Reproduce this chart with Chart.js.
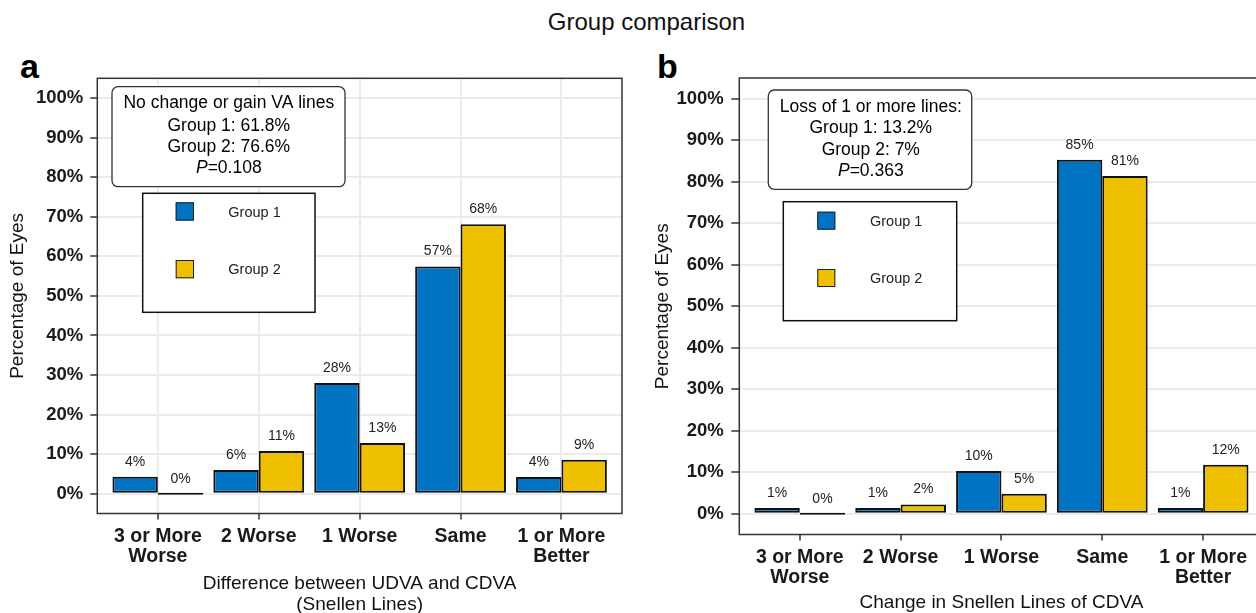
<!DOCTYPE html>
<html>
<head>
<meta charset="utf-8">
<script src="https://cdn.jsdelivr.net/npm/chart.js@4/dist/chart.umd.min.js"></script>
<style>
html,body{margin:0;padding:0;background:#fff;}
body{width:1256px;height:613px;overflow:hidden;position:relative;font-family:"Liberation Sans",Arial,sans-serif;}
#title{position:absolute;left:0;width:1293px;top:8px;text-align:center;font-size:24px;line-height:28px;color:#111;}
.letter{position:absolute;font-weight:bold;font-size:34px;line-height:34px;color:#000;}
.panel{position:absolute;top:40px;width:640px;height:580px;}
</style>
</head>
<body>
<div id="title">Group comparison</div>
<div class="letter" style="left:20px;top:49px;">a</div>
<div class="letter" style="left:657px;top:49px;">b</div>
<div class="panel" style="left:0px;"><canvas id="chartA"></canvas></div>
<div class="panel" style="left:640px;"><canvas id="chartB"></canvas></div>
<script>
// ---- data ----
const categories = [["3 or More","Worse"], "2 Worse", "1 Worse", "Same", ["1 or More","Better"]];
const seriesNames = ["Group 1", "Group 2"];
const seriesColors = ["#0073C2", "#EFC000"];
const panelA_group1 = [4.3, 6.0, 28.0, 57.4, 4.2];
const panelA_group2 = [0, 10.8, 12.8, 68.1, 8.6];
const panelB_group1 = [1.4, 1.4, 10.3, 85.3, 1.4];
const panelB_group2 = [0, 2.2, 4.8, 81.4, 11.8];
const yTickValues = [0, 5, 10, 15, 20, 25, 30, 35, 40, 45, 50, 55, 60, 65, 70, 75, 80, 85, 90, 95, 100];
const xTitleA = ["Difference between UDVA and CDVA", "(Snellen Lines)"];
const xTitleB = "Change in Snellen Lines of CDVA";
const yTitle = "Percentage of Eyes";
const annotA = ["No change or gain VA lines", "Group 1: 61.8%", "Group 2: 76.6%"];
const annotA_p = "0.108";
const annotB = ["Loss of 1 or more lines:", "Group 1: 13.2%", "Group 2: 7%"];
const annotB_p = "0.363";

const FONT = '"Liberation Sans", Arial, sans-serif';
Chart.defaults.font.family = FONT;
Chart.defaults.color = '#1a1a1a';

function roundRect(ctx, x, y, w, h, r) {
  ctx.beginPath();
  ctx.moveTo(x + r, y);
  ctx.lineTo(x + w - r, y);
  ctx.arcTo(x + w, y, x + w, y + r, r);
  ctx.lineTo(x + w, y + h - r);
  ctx.arcTo(x + w, y + h, x + w - r, y + h, r);
  ctx.lineTo(x + r, y + h);
  ctx.arcTo(x, y + h, x, y + h - r, r);
  ctx.lineTo(x, y + r);
  ctx.arcTo(x, y, x + r, y, r);
  ctx.closePath();
}

const framePlugin = {
  id: 'frame',
  afterDatasetsDraw(chart) {
    const a = chart.chartArea, ctx = chart.ctx;
    ctx.save();
    ctx.strokeStyle = '#333';
    ctx.lineWidth = 1.5;
    ctx.strokeRect(a.left, a.top, a.right - a.left, a.bottom - a.top);
    ctx.restore();
  }
};

const barLabelPlugin = {
  id: 'barLabels',
  afterDatasetsDraw(chart) {
    const ctx = chart.ctx, ys = chart.scales.y;
    ctx.save();
    ctx.font = '14px ' + FONT;
    ctx.fillStyle = '#222';
    ctx.textAlign = 'center';
    ctx.textBaseline = 'middle';
    chart.data.datasets.forEach((ds, i) => {
      const meta = chart.getDatasetMeta(i);
      meta.data.forEach((el, j) => {
        const v = ds.data[j].y;
        ctx.fillText(Math.round(v) + '%', el.x, ys.getPixelForValue(v) - 15);
      });
    });
    ctx.restore();
  }
};

const decorPlugin = {
  id: 'decor',
  afterDraw(chart, args, o) {
    const ctx = chart.ctx;
    ctx.save();
    const b = o.annot;
    roundRect(ctx, b.x, b.y, b.w, b.h, 6);
    ctx.fillStyle = '#fff';
    ctx.fill();
    ctx.strokeStyle = '#333';
    ctx.lineWidth = 1.3;
    ctx.stroke();
    ctx.fillStyle = '#000';
    ctx.textBaseline = 'middle';
    ctx.textAlign = 'center';
    const reg = '17.5px ' + FONT, ita = 'italic 17.5px ' + FONT;
    ctx.font = reg;
    b.lines.forEach((t, i) => ctx.fillText(t, b.cx, b.ly[i]));
    ctx.font = ita;
    const wP = ctx.measureText('P').width;
    ctx.font = reg;
    const rest = '=' + b.p;
    const wR = ctx.measureText(rest).width;
    const sx = b.cx - (wP + wR) / 2;
    ctx.textAlign = 'left';
    ctx.font = ita;
    ctx.fillText('P', sx, b.ly[3]);
    ctx.font = reg;
    ctx.fillText(rest, sx + wP, b.ly[3]);
    const L = o.legend;
    ctx.fillStyle = '#fff';
    ctx.fillRect(L.x, L.y, L.w, L.h);
    ctx.strokeStyle = '#111';
    ctx.lineWidth = 1.5;
    ctx.strokeRect(L.x, L.y, L.w, L.h);
    ctx.font = '14.5px ' + FONT;
    ctx.textAlign = 'left';
    chart.data.datasets.forEach((ds, i) => {
      ctx.fillStyle = ds.backgroundColor;
      ctx.fillRect(L.kx, L.ky[i], L.ks, L.ks);
      ctx.strokeStyle = '#222';
      ctx.lineWidth = 1;
      ctx.strokeRect(L.kx + 0.5, L.ky[i] + 0.5, L.ks - 1, L.ks - 1);
      ctx.fillStyle = '#222';
      ctx.fillText(ds.label, L.tx, L.ty[i]);
    });
    ctx.restore();
  }
};

function makeData(g1, g2) {
  return {
    datasets: [g1, g2].map((arr, i) => ({
      label: seriesNames[i],
      data: arr.map((v, j) => ({ x: j, y: v })),
      backgroundColor: seriesColors[i],
      borderColor: '#111',
      borderWidth: 2,
      borderSkipped: false,
      minBarLength: 2,
      categoryPercentage: 0.9,
      barPercentage: 1.0
    }))
  };
}

function makeConfig(g1, g2, p) {
  return {
    type: 'bar',
    data: makeData(g1, g2),
    plugins: [framePlugin, barLabelPlugin, decorPlugin],
    options: {
      responsive: true,
      maintainAspectRatio: false,
      animation: false,
      layout: { padding: { top: p.padTop, right: p.padRight, left: 0, bottom: 0 } },
      plugins: {
        legend: { display: false },
        tooltip: { enabled: false },
        decor: { annot: p.annot, legend: p.legend }
      },
      scales: {
        x: {
          type: 'linear',
          min: -0.6, max: 4.6,
          offset: false,
          afterBuildTicks: s => { s.ticks = categories.map((c, i) => ({ value: i })); },
          afterFit: s => { s.height = p.xHeight; },
          ticks: {
            autoSkip: false, maxRotation: 0, minRotation: 0,
            padding: 7,
            color: '#1a1a1a',
            font: { size: 19.5, weight: 'bold', lineHeight: 1.04 },
            callback: v => categories[v]
          },
          grid: {
            offset: false,
            color: p.xGrid ? '#ebebeb' : 'rgba(0,0,0,0)',
            lineWidth: 2,
            tickColor: '#333',
            tickLength: 6,
            tickWidth: 1.5
          },
          border: { display: false },
          title: {
            display: true,
            text: p.xTitle,
            color: '#111',
            font: { size: 19, lineHeight: 1.1 },
            padding: { top: 0, bottom: p.xTitlePad }
          }
        },
        y: {
          type: 'linear',
          min: -5, max: 105,
          afterBuildTicks: s => { s.ticks = yTickValues.map(v => ({ value: v })); },
          afterFit: s => { s.width = p.yWidth; },
          ticks: {
            padding: p.yTickPad,
            color: '#1a1a1a',
            font: { size: 18.5, weight: 'bold' },
            callback: v => (v % 10 === 0 ? v + '%' : '')
          },
          grid: {
            color: c => (c.tick && c.tick.value % 10 === 0 ? '#ebebeb' : '#f3f3f3'),
            lineWidth: c => (c.tick && c.tick.value % 10 === 0 ? 2 : 1),
            tickColor: c => (c.tick && c.tick.value % 10 === 0 ? '#333' : 'rgba(0,0,0,0)'),
            tickLength: p.yTickLen,
            tickWidth: 1.5
          },
          border: { display: false },
          title: {
            display: true,
            text: yTitle,
            color: '#111',
            font: { size: 19, lineHeight: 1.1 },
            padding: { top: p.yTitlePad, bottom: 0 }
          }
        }
      }
    }
  };
}

new Chart(document.getElementById('chartA'), makeConfig(panelA_group1, panelA_group2, {
  padTop: 38.3, padRight: 18, xHeight: 106.5, yWidth: 97.3, yTickPad: 7, yTickLen: 7,
  xGrid: true, xTitle: xTitleA, xTitlePad: 4.6, yTitlePad: 7,
  annot: { x: 112, y: 46.7, w: 233, h: 100, cx: 228.8, ly: [63.3, 86, 106.7, 128.3], lines: annotA, p: annotA_p },
  legend: { x: 142.7, y: 153.3, w: 172.3, h: 119, kx: 175.7, ky: [162.3, 220], ks: 18.3, tx: 228.3, ty: [172.7, 230] }
}));

new Chart(document.getElementById('chartB'), makeConfig(panelB_group1, panelB_group2, {
  padTop: 38, padRight: 16.4, xHeight: 85.5, yWidth: 99.3, yTickPad: 7.5, yTickLen: 8,
  xGrid: false, xTitle: xTitleB, xTitlePad: 6.5, yTitlePad: 12,
  annot: { x: 128.3, y: 50, w: 203.4, h: 99.3, cx: 230.8, ly: [67.3, 88.3, 110, 130.7], lines: annotB, p: annotB_p },
  legend: { x: 143.3, y: 161.7, w: 173.4, h: 119, kx: 177.3, ky: [171.7, 229], ks: 18, tx: 230, ty: [181.7, 239.3] }
}));
</script>
</body>
</html>
